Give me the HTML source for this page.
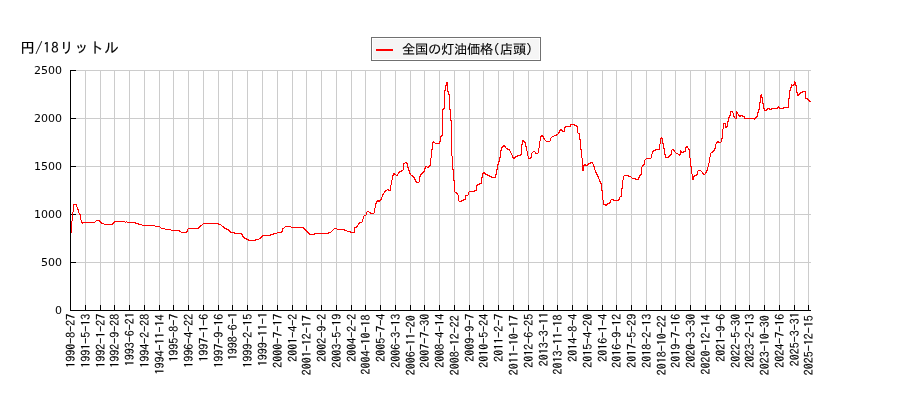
<!DOCTYPE html>
<html lang="ja"><head><meta charset="utf-8"><title>全国の灯油価格(店頭)</title>
<style>
html,body{margin:0;padding:0;background:#fff;}
body{width:900px;height:400px;overflow:hidden;position:relative;}
svg{position:absolute;left:0;top:0;display:block;}
.yl{font-family:"DejaVu Sans","Liberation Sans",sans-serif;font-size:11px;fill:#000;}
.xl{font-family:"IPAGothic","Liberation Mono","Noto Sans CJK JP",monospace;font-size:12px;fill:#000;stroke:#000;stroke-width:0.12px;}
.ti{font-family:"IPAGothic","Liberation Sans","Noto Sans CJK JP",sans-serif;font-size:14.67px;fill:#000;stroke:#000;stroke-width:0.15px;}
.lg{font-family:"IPAGothic","Liberation Sans","Noto Sans CJK JP",sans-serif;font-size:13.33px;fill:#000;stroke:#000;stroke-width:0.12px;}
</style></head><body>
<svg width="900" height="400" viewBox="0 0 900 400">
<rect x="0" y="0" width="900" height="400" fill="#ffffff"/>

<g shape-rendering="crispEdges" stroke="#cccccc" stroke-width="1" fill="none">
<line x1="85.5" y1="70" x2="85.5" y2="310"/>
<line x1="100.5" y1="70" x2="100.5" y2="310"/>
<line x1="114.5" y1="70" x2="114.5" y2="310"/>
<line x1="129.5" y1="70" x2="129.5" y2="310"/>
<line x1="144.5" y1="70" x2="144.5" y2="310"/>
<line x1="159.5" y1="70" x2="159.5" y2="310"/>
<line x1="173.5" y1="70" x2="173.5" y2="310"/>
<line x1="188.5" y1="70" x2="188.5" y2="310"/>
<line x1="203.5" y1="70" x2="203.5" y2="310"/>
<line x1="218.5" y1="70" x2="218.5" y2="310"/>
<line x1="232.5" y1="70" x2="232.5" y2="310"/>
<line x1="247.5" y1="70" x2="247.5" y2="310"/>
<line x1="262.5" y1="70" x2="262.5" y2="310"/>
<line x1="277.5" y1="70" x2="277.5" y2="310"/>
<line x1="292.5" y1="70" x2="292.5" y2="310"/>
<line x1="306.5" y1="70" x2="306.5" y2="310"/>
<line x1="321.5" y1="70" x2="321.5" y2="310"/>
<line x1="336.5" y1="70" x2="336.5" y2="310"/>
<line x1="351.5" y1="70" x2="351.5" y2="310"/>
<line x1="365.5" y1="70" x2="365.5" y2="310"/>
<line x1="380.5" y1="70" x2="380.5" y2="310"/>
<line x1="395.5" y1="70" x2="395.5" y2="310"/>
<line x1="410.5" y1="70" x2="410.5" y2="310"/>
<line x1="424.5" y1="70" x2="424.5" y2="310"/>
<line x1="439.5" y1="70" x2="439.5" y2="310"/>
<line x1="454.5" y1="70" x2="454.5" y2="310"/>
<line x1="469.5" y1="70" x2="469.5" y2="310"/>
<line x1="483.5" y1="70" x2="483.5" y2="310"/>
<line x1="498.5" y1="70" x2="498.5" y2="310"/>
<line x1="513.5" y1="70" x2="513.5" y2="310"/>
<line x1="528.5" y1="70" x2="528.5" y2="310"/>
<line x1="543.5" y1="70" x2="543.5" y2="310"/>
<line x1="557.5" y1="70" x2="557.5" y2="310"/>
<line x1="572.5" y1="70" x2="572.5" y2="310"/>
<line x1="587.5" y1="70" x2="587.5" y2="310"/>
<line x1="602.5" y1="70" x2="602.5" y2="310"/>
<line x1="616.5" y1="70" x2="616.5" y2="310"/>
<line x1="631.5" y1="70" x2="631.5" y2="310"/>
<line x1="646.5" y1="70" x2="646.5" y2="310"/>
<line x1="661.5" y1="70" x2="661.5" y2="310"/>
<line x1="675.5" y1="70" x2="675.5" y2="310"/>
<line x1="690.5" y1="70" x2="690.5" y2="310"/>
<line x1="705.5" y1="70" x2="705.5" y2="310"/>
<line x1="720.5" y1="70" x2="720.5" y2="310"/>
<line x1="735.5" y1="70" x2="735.5" y2="310"/>
<line x1="749.5" y1="70" x2="749.5" y2="310"/>
<line x1="764.5" y1="70" x2="764.5" y2="310"/>
<line x1="779.5" y1="70" x2="779.5" y2="310"/>
<line x1="794.5" y1="70" x2="794.5" y2="310"/>
<line x1="808.5" y1="70" x2="808.5" y2="310"/>
<line x1="70" y1="262.5" x2="811" y2="262.5"/>
<line x1="70" y1="214.5" x2="811" y2="214.5"/>
<line x1="70" y1="166.5" x2="811" y2="166.5"/>
<line x1="70" y1="118.5" x2="811" y2="118.5"/>
<line x1="70" y1="70.5" x2="811" y2="70.5"/>
</g>
<g shape-rendering="crispEdges" stroke="#000000" stroke-width="1" fill="none">
<line x1="70.5" y1="70" x2="70.5" y2="311"/>
<line x1="70" y1="310.5" x2="811" y2="310.5"/>
<line x1="70.5" y1="305" x2="70.5" y2="311"/>
<line x1="85.5" y1="305" x2="85.5" y2="311"/>
<line x1="100.5" y1="305" x2="100.5" y2="311"/>
<line x1="114.5" y1="305" x2="114.5" y2="311"/>
<line x1="129.5" y1="305" x2="129.5" y2="311"/>
<line x1="144.5" y1="305" x2="144.5" y2="311"/>
<line x1="159.5" y1="305" x2="159.5" y2="311"/>
<line x1="173.5" y1="305" x2="173.5" y2="311"/>
<line x1="188.5" y1="305" x2="188.5" y2="311"/>
<line x1="203.5" y1="305" x2="203.5" y2="311"/>
<line x1="218.5" y1="305" x2="218.5" y2="311"/>
<line x1="232.5" y1="305" x2="232.5" y2="311"/>
<line x1="247.5" y1="305" x2="247.5" y2="311"/>
<line x1="262.5" y1="305" x2="262.5" y2="311"/>
<line x1="277.5" y1="305" x2="277.5" y2="311"/>
<line x1="292.5" y1="305" x2="292.5" y2="311"/>
<line x1="306.5" y1="305" x2="306.5" y2="311"/>
<line x1="321.5" y1="305" x2="321.5" y2="311"/>
<line x1="336.5" y1="305" x2="336.5" y2="311"/>
<line x1="351.5" y1="305" x2="351.5" y2="311"/>
<line x1="365.5" y1="305" x2="365.5" y2="311"/>
<line x1="380.5" y1="305" x2="380.5" y2="311"/>
<line x1="395.5" y1="305" x2="395.5" y2="311"/>
<line x1="410.5" y1="305" x2="410.5" y2="311"/>
<line x1="424.5" y1="305" x2="424.5" y2="311"/>
<line x1="439.5" y1="305" x2="439.5" y2="311"/>
<line x1="454.5" y1="305" x2="454.5" y2="311"/>
<line x1="469.5" y1="305" x2="469.5" y2="311"/>
<line x1="483.5" y1="305" x2="483.5" y2="311"/>
<line x1="498.5" y1="305" x2="498.5" y2="311"/>
<line x1="513.5" y1="305" x2="513.5" y2="311"/>
<line x1="528.5" y1="305" x2="528.5" y2="311"/>
<line x1="543.5" y1="305" x2="543.5" y2="311"/>
<line x1="557.5" y1="305" x2="557.5" y2="311"/>
<line x1="572.5" y1="305" x2="572.5" y2="311"/>
<line x1="587.5" y1="305" x2="587.5" y2="311"/>
<line x1="602.5" y1="305" x2="602.5" y2="311"/>
<line x1="616.5" y1="305" x2="616.5" y2="311"/>
<line x1="631.5" y1="305" x2="631.5" y2="311"/>
<line x1="646.5" y1="305" x2="646.5" y2="311"/>
<line x1="661.5" y1="305" x2="661.5" y2="311"/>
<line x1="675.5" y1="305" x2="675.5" y2="311"/>
<line x1="690.5" y1="305" x2="690.5" y2="311"/>
<line x1="705.5" y1="305" x2="705.5" y2="311"/>
<line x1="720.5" y1="305" x2="720.5" y2="311"/>
<line x1="735.5" y1="305" x2="735.5" y2="311"/>
<line x1="749.5" y1="305" x2="749.5" y2="311"/>
<line x1="764.5" y1="305" x2="764.5" y2="311"/>
<line x1="779.5" y1="305" x2="779.5" y2="311"/>
<line x1="794.5" y1="305" x2="794.5" y2="311"/>
<line x1="808.5" y1="305" x2="808.5" y2="311"/>
<line x1="70" y1="310.5" x2="76" y2="310.5"/>
<line x1="70" y1="262.5" x2="76" y2="262.5"/>
<line x1="70" y1="214.5" x2="76" y2="214.5"/>
<line x1="70" y1="166.5" x2="76" y2="166.5"/>
<line x1="70" y1="118.5" x2="76" y2="118.5"/>
<line x1="70" y1="70.5" x2="76" y2="70.5"/>
</g>
<text class="yl" x="62" y="314" text-anchor="end">0</text>
<text class="yl" x="62" y="266" text-anchor="end">500</text>
<text class="yl" x="62" y="218" text-anchor="end">1000</text>
<text class="yl" x="62" y="170" text-anchor="end">1500</text>
<text class="yl" x="62" y="122" text-anchor="end">2000</text>
<text class="yl" x="62" y="74" text-anchor="end">2500</text>
<text class="xl" transform="translate(74.5,313.8) rotate(-90)" text-anchor="end">1990-8-27</text>
<text class="xl" transform="translate(89.5,313.8) rotate(-90)" text-anchor="end">1991-5-13</text>
<text class="xl" transform="translate(104.5,313.8) rotate(-90)" text-anchor="end">1992-1-27</text>
<text class="xl" transform="translate(118.5,313.8) rotate(-90)" text-anchor="end">1992-9-28</text>
<text class="xl" transform="translate(133.5,312.2) rotate(-90)" text-anchor="end">1993-6-21</text>
<text class="xl" transform="translate(148.5,313.8) rotate(-90)" text-anchor="end">1994-2-28</text>
<text class="xl" transform="translate(163.5,314.5) rotate(-90)" text-anchor="end">1994-11-14</text>
<text class="xl" transform="translate(177.5,313.8) rotate(-90)" text-anchor="end">1995-8-7</text>
<text class="xl" transform="translate(192.5,313.8) rotate(-90)" text-anchor="end">1996-4-22</text>
<text class="xl" transform="translate(207.5,313.8) rotate(-90)" text-anchor="end">1997-1-6</text>
<text class="xl" transform="translate(222.5,313.8) rotate(-90)" text-anchor="end">1997-9-16</text>
<text class="xl" transform="translate(236.5,312.2) rotate(-90)" text-anchor="end">1998-6-1</text>
<text class="xl" transform="translate(251.5,313.8) rotate(-90)" text-anchor="end">1999-2-15</text>
<text class="xl" transform="translate(266.5,312.2) rotate(-90)" text-anchor="end">1999-11-1</text>
<text class="xl" transform="translate(281.5,313.8) rotate(-90)" text-anchor="end">2000-7-17</text>
<text class="xl" transform="translate(296.5,313.8) rotate(-90)" text-anchor="end">2001-4-2</text>
<text class="xl" transform="translate(310.5,315.3) rotate(-90)" text-anchor="end">2001-12-17</text>
<text class="xl" transform="translate(325.5,313.8) rotate(-90)" text-anchor="end">2002-9-2</text>
<text class="xl" transform="translate(340.5,313.8) rotate(-90)" text-anchor="end">2003-5-19</text>
<text class="xl" transform="translate(355.5,313.8) rotate(-90)" text-anchor="end">2004-2-2</text>
<text class="xl" transform="translate(369.5,314.5) rotate(-90)" text-anchor="end">2004-10-18</text>
<text class="xl" transform="translate(384.5,313.8) rotate(-90)" text-anchor="end">2005-7-4</text>
<text class="xl" transform="translate(399.5,313.8) rotate(-90)" text-anchor="end">2006-3-13</text>
<text class="xl" transform="translate(414.5,315.3) rotate(-90)" text-anchor="end">2006-11-20</text>
<text class="xl" transform="translate(428.5,313.8) rotate(-90)" text-anchor="end">2007-7-30</text>
<text class="xl" transform="translate(443.5,313.8) rotate(-90)" text-anchor="end">2008-4-14</text>
<text class="xl" transform="translate(458.5,315.3) rotate(-90)" text-anchor="end">2008-12-22</text>
<text class="xl" transform="translate(473.5,313.8) rotate(-90)" text-anchor="end">2009-9-7</text>
<text class="xl" transform="translate(487.5,313.8) rotate(-90)" text-anchor="end">2010-5-24</text>
<text class="xl" transform="translate(502.5,313.8) rotate(-90)" text-anchor="end">2011-2-7</text>
<text class="xl" transform="translate(517.5,315.3) rotate(-90)" text-anchor="end">2011-10-17</text>
<text class="xl" transform="translate(532.5,313.8) rotate(-90)" text-anchor="end">2012-6-25</text>
<text class="xl" transform="translate(547.5,312.2) rotate(-90)" text-anchor="end">2013-3-11</text>
<text class="xl" transform="translate(561.5,314.5) rotate(-90)" text-anchor="end">2013-11-18</text>
<text class="xl" transform="translate(576.5,313.8) rotate(-90)" text-anchor="end">2014-8-4</text>
<text class="xl" transform="translate(591.5,313.8) rotate(-90)" text-anchor="end">2015-4-20</text>
<text class="xl" transform="translate(606.5,313.8) rotate(-90)" text-anchor="end">2016-1-4</text>
<text class="xl" transform="translate(620.5,313.8) rotate(-90)" text-anchor="end">2016-9-12</text>
<text class="xl" transform="translate(635.5,313.8) rotate(-90)" text-anchor="end">2017-5-29</text>
<text class="xl" transform="translate(650.5,313.8) rotate(-90)" text-anchor="end">2018-2-13</text>
<text class="xl" transform="translate(665.5,315.3) rotate(-90)" text-anchor="end">2018-10-22</text>
<text class="xl" transform="translate(679.5,313.8) rotate(-90)" text-anchor="end">2019-7-16</text>
<text class="xl" transform="translate(694.5,313.8) rotate(-90)" text-anchor="end">2020-3-30</text>
<text class="xl" transform="translate(709.5,314.5) rotate(-90)" text-anchor="end">2020-12-14</text>
<text class="xl" transform="translate(724.5,313.8) rotate(-90)" text-anchor="end">2021-9-6</text>
<text class="xl" transform="translate(739.5,313.8) rotate(-90)" text-anchor="end">2022-5-30</text>
<text class="xl" transform="translate(753.5,313.8) rotate(-90)" text-anchor="end">2023-2-13</text>
<text class="xl" transform="translate(768.5,315.3) rotate(-90)" text-anchor="end">2023-10-30</text>
<text class="xl" transform="translate(783.5,313.8) rotate(-90)" text-anchor="end">2024-7-16</text>
<text class="xl" transform="translate(798.5,312.2) rotate(-90)" text-anchor="end">2025-3-31</text>
<text class="xl" transform="translate(812.5,315.3) rotate(-90)" text-anchor="end">2025-12-15</text>
<text class="ti" x="20.2" y="53.2" letter-spacing="0.33">円<tspan letter-spacing="0.67">/18</tspan>リットル</text>
<rect x="371.5" y="37.5" width="169" height="23" fill="#ffffff" stroke="#707070" stroke-width="1" shape-rendering="crispEdges"/>
<rect x="373" y="39" width="166" height="20" fill="#f5f5f5" shape-rendering="crispEdges"/>
<line x1="376" y1="50" x2="393" y2="50" stroke="#ff0000" stroke-width="2" shape-rendering="crispEdges"/>
<text class="lg" x="401.9" y="54" letter-spacing="-0.33">全国の灯油価格<tspan letter-spacing="0.33">(</tspan>店頭<tspan letter-spacing="0.33">)</tspan></text>
<path d="M71 221h1v12h-1zM72 212h1v9h-1zM73 204h1v8h-1zM74 204h1v1h-1zM75 204h1v1h-1zM76 204h1v3h-1zM77 207h1v3h-1zM78 209h1v4h-1zM79 213h1v2h-1zM80 214h1v6h-1zM81 220h1v3h-1zM82 222h1v2h-1zM83 222h1v1h-1zM84 222h1v1h-1zM85 222h1v1h-1zM86 222h1v1h-1zM87 222h1v1h-1zM88 222h1v1h-1zM89 222h1v1h-1zM90 222h1v1h-1zM91 222h1v1h-1zM92 222h1v1h-1zM93 222h1v1h-1zM94 222h1v1h-1zM95 221h1v1h-1zM96 220h1v1h-1zM97 220h1v1h-1zM98 220h1v1h-1zM99 220h1v2h-1zM100 221h1v2h-1zM101 222h1v2h-1zM102 223h1v1h-1zM103 223h1v1h-1zM104 224h1v1h-1zM105 224h1v1h-1zM106 224h1v1h-1zM107 224h1v1h-1zM108 224h1v1h-1zM109 224h1v1h-1zM110 224h1v1h-1zM111 224h1v1h-1zM112 223h1v2h-1zM113 222h1v2h-1zM114 221h1v2h-1zM115 221h1v1h-1zM116 221h1v1h-1zM117 221h1v1h-1zM118 221h1v1h-1zM119 221h1v1h-1zM120 221h1v1h-1zM121 221h1v1h-1zM122 221h1v1h-1zM123 221h1v1h-1zM124 221h1v1h-1zM125 222h1v1h-1zM126 221h1v1h-1zM127 222h1v1h-1zM128 222h1v1h-1zM129 222h1v1h-1zM130 222h1v1h-1zM131 222h1v1h-1zM132 222h1v1h-1zM133 222h1v1h-1zM134 222h1v1h-1zM135 222h1v2h-1zM136 223h1v1h-1zM137 223h1v1h-1zM138 223h1v2h-1zM139 224h1v1h-1zM140 224h1v1h-1zM141 224h1v1h-1zM142 225h1v1h-1zM143 225h1v1h-1zM144 225h1v1h-1zM145 225h1v1h-1zM146 225h1v1h-1zM147 225h1v1h-1zM148 225h1v1h-1zM149 225h1v1h-1zM150 225h1v1h-1zM151 225h1v1h-1zM152 225h1v1h-1zM153 225h1v1h-1zM154 225h1v1h-1zM155 226h1v1h-1zM156 226h1v1h-1zM157 226h1v1h-1zM158 226h1v1h-1zM159 226h1v1h-1zM160 227h1v1h-1zM161 228h1v1h-1zM162 228h1v1h-1zM163 228h1v1h-1zM164 228h1v1h-1zM165 229h1v1h-1zM166 229h1v1h-1zM167 229h1v1h-1zM168 229h1v1h-1zM169 229h1v1h-1zM170 229h1v1h-1zM171 230h1v1h-1zM172 230h1v1h-1zM173 230h1v1h-1zM174 230h1v1h-1zM175 230h1v1h-1zM176 230h1v1h-1zM177 230h1v1h-1zM178 230h1v1h-1zM179 230h1v2h-1zM180 231h1v1h-1zM181 232h1v1h-1zM182 232h1v1h-1zM183 232h1v1h-1zM184 232h1v1h-1zM185 232h1v1h-1zM186 231h1v2h-1zM187 229h1v3h-1zM188 228h1v1h-1zM189 228h1v1h-1zM190 228h1v1h-1zM191 228h1v1h-1zM192 228h1v1h-1zM193 228h1v1h-1zM194 228h1v1h-1zM195 228h1v1h-1zM196 228h1v1h-1zM197 228h1v1h-1zM198 227h1v2h-1zM199 226h1v2h-1zM200 225h1v2h-1zM201 225h1v1h-1zM202 224h1v1h-1zM203 223h1v1h-1zM204 223h1v1h-1zM205 223h1v1h-1zM206 223h1v1h-1zM207 223h1v1h-1zM208 223h1v1h-1zM209 223h1v1h-1zM210 223h1v1h-1zM211 223h1v1h-1zM212 223h1v1h-1zM213 223h1v1h-1zM214 223h1v1h-1zM215 223h1v1h-1zM216 223h1v1h-1zM217 223h1v1h-1zM218 223h1v2h-1zM219 224h1v1h-1zM220 224h1v1h-1zM221 225h1v1h-1zM222 226h1v1h-1zM223 226h1v2h-1zM224 227h1v2h-1zM225 228h1v1h-1zM226 228h1v2h-1zM227 229h1v1h-1zM228 229h1v2h-1zM229 230h1v2h-1zM230 231h1v2h-1zM231 232h1v1h-1zM232 232h1v1h-1zM233 232h1v1h-1zM234 232h1v2h-1zM235 233h1v1h-1zM236 233h1v1h-1zM237 233h1v1h-1zM238 233h1v1h-1zM239 233h1v1h-1zM240 233h1v1h-1zM241 233h1v2h-1zM242 234h1v3h-1zM243 236h1v2h-1zM244 237h1v2h-1zM245 238h1v1h-1zM246 238h1v2h-1zM247 239h1v1h-1zM248 239h1v2h-1zM249 240h1v1h-1zM250 240h1v1h-1zM251 240h1v1h-1zM252 240h1v1h-1zM253 240h1v1h-1zM254 240h1v1h-1zM255 239h1v2h-1zM256 239h1v1h-1zM257 239h1v1h-1zM258 239h1v1h-1zM259 238h1v1h-1zM260 237h1v2h-1zM261 236h1v2h-1zM262 235h1v2h-1zM263 235h1v1h-1zM264 235h1v1h-1zM265 235h1v1h-1zM266 235h1v1h-1zM267 235h1v1h-1zM268 235h1v1h-1zM269 235h1v1h-1zM270 234h1v2h-1zM271 234h1v1h-1zM272 234h1v1h-1zM273 233h1v2h-1zM274 233h1v1h-1zM275 233h1v1h-1zM276 233h1v1h-1zM277 232h1v1h-1zM278 232h1v1h-1zM279 232h1v1h-1zM280 232h1v1h-1zM281 231h1v2h-1zM282 228h1v4h-1zM283 228h1v1h-1zM284 227h1v1h-1zM285 226h1v1h-1zM286 226h1v1h-1zM287 226h1v1h-1zM288 226h1v1h-1zM289 226h1v1h-1zM290 226h1v1h-1zM291 227h1v1h-1zM292 227h1v1h-1zM293 227h1v1h-1zM294 227h1v1h-1zM295 227h1v1h-1zM296 227h1v1h-1zM297 227h1v1h-1zM298 227h1v1h-1zM299 227h1v1h-1zM300 227h1v1h-1zM301 227h1v1h-1zM302 227h1v1h-1zM303 227h1v2h-1zM304 228h1v2h-1zM305 229h1v2h-1zM306 230h1v2h-1zM307 231h1v2h-1zM308 232h1v2h-1zM309 233h1v2h-1zM310 234h1v1h-1zM311 234h1v1h-1zM312 234h1v1h-1zM313 234h1v1h-1zM314 233h1v2h-1zM315 233h1v1h-1zM316 233h1v1h-1zM317 233h1v1h-1zM318 233h1v1h-1zM319 233h1v1h-1zM320 233h1v1h-1zM321 233h1v1h-1zM322 233h1v1h-1zM323 233h1v1h-1zM324 233h1v1h-1zM325 233h1v1h-1zM326 233h1v1h-1zM327 233h1v1h-1zM328 232h1v2h-1zM329 232h1v1h-1zM330 232h1v1h-1zM331 231h1v1h-1zM332 230h1v1h-1zM333 229h1v1h-1zM334 228h1v1h-1zM335 228h1v1h-1zM336 228h1v1h-1zM337 229h1v1h-1zM338 229h1v1h-1zM339 229h1v1h-1zM340 229h1v1h-1zM341 229h1v1h-1zM342 229h1v1h-1zM343 229h1v1h-1zM344 229h1v2h-1zM345 230h1v1h-1zM346 230h1v1h-1zM347 231h1v1h-1zM348 231h1v1h-1zM349 231h1v1h-1zM350 231h1v2h-1zM351 232h1v1h-1zM352 232h1v1h-1zM353 232h1v1h-1zM354 227h1v6h-1zM355 227h1v1h-1zM356 226h1v2h-1zM357 225h1v2h-1zM358 223h1v2h-1zM359 222h1v2h-1zM360 222h1v1h-1zM361 222h1v1h-1zM362 219h1v3h-1zM363 216h1v3h-1zM364 215h1v1h-1zM365 215h1v1h-1zM366 212h1v3h-1zM367 211h1v1h-1zM368 211h1v1h-1zM369 212h1v1h-1zM370 212h1v2h-1zM371 213h1v1h-1zM372 213h1v1h-1zM373 213h1v1h-1zM374 208h1v5h-1zM375 203h1v5h-1zM376 201h1v3h-1zM377 200h1v2h-1zM378 200h1v2h-1zM379 200h1v2h-1zM380 199h1v2h-1zM381 197h1v3h-1zM382 194h1v3h-1zM383 193h1v2h-1zM384 191h1v2h-1zM385 190h1v2h-1zM386 190h1v1h-1zM387 189h1v1h-1zM388 189h1v2h-1zM389 190h1v1h-1zM390 185h1v6h-1zM391 180h1v5h-1zM392 175h1v5h-1zM393 173h1v3h-1zM394 173h1v2h-1zM395 174h1v1h-1zM396 175h1v1h-1zM397 174h1v2h-1zM398 172h1v2h-1zM399 171h1v2h-1zM400 171h1v1h-1zM401 170h1v2h-1zM402 170h1v1h-1zM403 163h1v7h-1zM404 163h1v1h-1zM405 162h1v1h-1zM406 162h1v2h-1zM407 163h1v5h-1zM408 167h1v4h-1zM409 170h1v4h-1zM410 173h1v2h-1zM411 175h1v1h-1zM412 175h1v2h-1zM413 176h1v2h-1zM414 177h1v3h-1zM415 179h1v3h-1zM416 181h1v2h-1zM417 182h1v1h-1zM418 182h1v1h-1zM419 176h1v6h-1zM420 174h1v3h-1zM421 173h1v2h-1zM422 172h1v2h-1zM423 171h1v2h-1zM424 168h1v4h-1zM425 166h1v3h-1zM426 166h1v1h-1zM427 167h1v1h-1zM428 166h1v2h-1zM429 165h1v2h-1zM430 158h1v8h-1zM431 149h1v9h-1zM432 142h1v8h-1zM433 141h1v2h-1zM434 142h1v1h-1zM435 143h1v1h-1zM436 143h1v1h-1zM437 143h1v1h-1zM438 143h1v1h-1zM439 141h1v3h-1zM440 136h1v6h-1zM441 135h1v2h-1zM442 109h1v27h-1zM443 108h1v2h-1zM444 90h1v19h-1zM445 85h1v6h-1zM446 82h1v4h-1zM447 82h1v10h-1zM448 91h1v4h-1zM449 94h1v16h-1zM450 109h1v12h-1zM451 120h1v36h-1zM452 156h1v14h-1zM453 169h1v12h-1zM454 180h1v12h-1zM455 192h1v1h-1zM456 192h1v2h-1zM457 193h1v2h-1zM458 195h1v6h-1zM459 201h1v1h-1zM460 201h1v1h-1zM461 200h1v2h-1zM462 200h1v1h-1zM463 199h1v2h-1zM464 199h1v1h-1zM465 195h1v5h-1zM466 195h1v1h-1zM467 195h1v1h-1zM468 192h1v3h-1zM469 191h1v1h-1zM470 191h1v1h-1zM471 191h1v1h-1zM472 191h1v1h-1zM473 191h1v1h-1zM474 190h1v2h-1zM475 190h1v1h-1zM476 185h1v6h-1zM477 184h1v2h-1zM478 184h1v1h-1zM479 183h1v2h-1zM480 183h1v1h-1zM481 177h1v7h-1zM482 173h1v5h-1zM483 172h1v2h-1zM484 172h1v2h-1zM485 173h1v2h-1zM486 174h1v1h-1zM487 174h1v2h-1zM488 175h1v1h-1zM489 175h1v2h-1zM490 176h1v1h-1zM491 176h1v2h-1zM492 177h1v1h-1zM493 177h1v1h-1zM494 177h1v1h-1zM495 174h1v4h-1zM496 169h1v6h-1zM497 164h1v6h-1zM498 161h1v4h-1zM499 157h1v5h-1zM500 150h1v8h-1zM501 147h1v4h-1zM502 146h1v2h-1zM503 145h1v2h-1zM504 145h1v2h-1zM505 146h1v2h-1zM506 148h1v1h-1zM507 148h1v2h-1zM508 149h1v1h-1zM509 149h1v2h-1zM510 151h1v2h-1zM511 153h1v2h-1zM512 155h1v3h-1zM513 157h1v2h-1zM514 157h1v2h-1zM515 156h1v2h-1zM516 156h1v1h-1zM517 155h1v2h-1zM518 155h1v1h-1zM519 155h1v1h-1zM520 154h1v2h-1zM521 144h1v11h-1zM522 140h1v5h-1zM523 140h1v2h-1zM524 141h1v2h-1zM525 142h1v5h-1zM526 146h1v5h-1zM527 151h1v5h-1zM528 156h1v3h-1zM529 158h1v1h-1zM530 157h1v2h-1zM531 153h1v5h-1zM532 152h1v1h-1zM533 151h1v1h-1zM534 151h1v1h-1zM535 152h1v2h-1zM536 153h1v1h-1zM537 153h1v1h-1zM538 148h1v5h-1zM539 141h1v7h-1zM540 136h1v5h-1zM541 135h1v2h-1zM542 135h1v2h-1zM543 136h1v3h-1zM544 138h1v2h-1zM545 140h1v1h-1zM546 141h1v1h-1zM547 141h1v1h-1zM548 141h1v1h-1zM549 141h1v1h-1zM550 138h1v3h-1zM551 137h1v1h-1zM552 136h1v1h-1zM553 136h1v1h-1zM554 135h1v1h-1zM555 135h1v1h-1zM556 134h1v2h-1zM557 134h1v1h-1zM558 132h1v2h-1zM559 130h1v3h-1zM560 129h1v2h-1zM561 129h1v2h-1zM562 130h1v2h-1zM563 131h1v1h-1zM564 127h1v5h-1zM565 126h1v2h-1zM566 126h1v1h-1zM567 126h1v1h-1zM568 126h1v1h-1zM569 126h1v1h-1zM570 124h1v3h-1zM571 124h1v1h-1zM572 124h1v1h-1zM573 124h1v1h-1zM574 124h1v2h-1zM575 125h1v1h-1zM576 125h1v2h-1zM577 126h1v7h-1zM578 133h1v1h-1zM579 133h1v7h-1zM580 139h1v11h-1zM581 149h1v9h-1zM582 158h1v13h-1zM583 165h1v6h-1zM584 164h1v2h-1zM585 164h1v2h-1zM586 165h1v1h-1zM587 164h1v2h-1zM588 163h1v2h-1zM589 163h1v1h-1zM590 162h1v2h-1zM591 162h1v1h-1zM592 162h1v2h-1zM593 164h1v3h-1zM594 166h1v4h-1zM595 170h1v3h-1zM596 172h1v3h-1zM597 174h1v3h-1zM598 176h1v3h-1zM599 179h1v3h-1zM600 181h1v3h-1zM601 183h1v8h-1zM602 190h1v10h-1zM603 200h1v5h-1zM604 204h1v1h-1zM605 204h1v2h-1zM606 204h1v2h-1zM607 203h1v2h-1zM608 203h1v1h-1zM609 202h1v2h-1zM610 200h1v3h-1zM611 199h1v1h-1zM612 199h1v1h-1zM613 199h1v2h-1zM614 200h1v1h-1zM615 200h1v1h-1zM616 200h1v1h-1zM617 200h1v1h-1zM618 199h1v2h-1zM619 197h1v3h-1zM620 196h1v1h-1zM621 188h1v9h-1zM622 180h1v9h-1zM623 176h1v4h-1zM624 175h1v1h-1zM625 175h1v1h-1zM626 175h1v1h-1zM627 175h1v1h-1zM628 175h1v2h-1zM629 176h1v1h-1zM630 176h1v1h-1zM631 177h1v1h-1zM632 178h1v1h-1zM633 178h1v1h-1zM634 178h1v1h-1zM635 178h1v2h-1zM636 179h1v1h-1zM637 179h1v1h-1zM638 177h1v3h-1zM639 175h1v3h-1zM640 174h1v2h-1zM641 167h1v8h-1zM642 165h1v2h-1zM643 164h1v2h-1zM644 160h1v5h-1zM645 159h1v1h-1zM646 158h1v1h-1zM647 158h1v1h-1zM648 158h1v1h-1zM649 158h1v1h-1zM650 158h1v1h-1zM651 154h1v4h-1zM652 151h1v3h-1zM653 150h1v2h-1zM654 150h1v1h-1zM655 149h1v2h-1zM656 149h1v1h-1zM657 149h1v1h-1zM658 149h1v1h-1zM659 144h1v6h-1zM660 138h1v6h-1zM661 137h1v2h-1zM662 138h1v6h-1zM663 143h1v6h-1zM664 148h1v7h-1zM665 154h1v4h-1zM666 157h1v1h-1zM667 157h1v1h-1zM668 156h1v2h-1zM669 155h1v2h-1zM670 154h1v2h-1zM671 150h1v5h-1zM672 149h1v1h-1zM673 149h1v2h-1zM674 150h1v2h-1zM675 152h1v1h-1zM676 153h1v1h-1zM677 153h1v1h-1zM678 154h1v1h-1zM679 154h1v2h-1zM680 150h1v5h-1zM681 151h1v2h-1zM682 152h1v1h-1zM683 151h1v2h-1zM684 151h1v1h-1zM685 147h1v5h-1zM686 146h1v2h-1zM687 146h1v2h-1zM688 148h1v2h-1zM689 149h1v9h-1zM690 158h1v9h-1zM691 166h1v8h-1zM692 174h1v6h-1zM693 176h1v4h-1zM694 175h1v2h-1zM695 175h1v1h-1zM696 174h1v2h-1zM697 171h1v4h-1zM698 170h1v1h-1zM699 170h1v1h-1zM700 170h1v1h-1zM701 171h1v1h-1zM702 172h1v2h-1zM703 173h1v2h-1zM704 174h1v1h-1zM705 172h1v2h-1zM706 170h1v3h-1zM707 167h1v4h-1zM708 163h1v4h-1zM709 157h1v6h-1zM710 153h1v4h-1zM711 152h1v1h-1zM712 151h1v2h-1zM713 150h1v2h-1zM714 148h1v3h-1zM715 144h1v5h-1zM716 142h1v2h-1zM717 141h1v2h-1zM718 141h1v2h-1zM719 142h1v1h-1zM720 142h1v1h-1zM721 138h1v4h-1zM722 129h1v10h-1zM723 123h1v6h-1zM724 123h1v1h-1zM725 123h1v5h-1zM726 126h1v2h-1zM727 121h1v6h-1zM728 117h1v5h-1zM729 115h1v3h-1zM730 111h1v5h-1zM731 111h1v1h-1zM732 111h1v2h-1zM733 113h1v4h-1zM734 116h1v2h-1zM735 118h1v1h-1zM736 111h1v8h-1zM737 112h1v2h-1zM738 114h1v2h-1zM739 115h1v2h-1zM740 115h1v2h-1zM741 115h1v1h-1zM742 115h1v2h-1zM743 116h1v1h-1zM744 116h1v3h-1zM745 118h1v1h-1zM746 118h1v1h-1zM747 118h1v1h-1zM748 118h1v1h-1zM749 118h1v1h-1zM750 118h1v1h-1zM751 118h1v1h-1zM752 118h1v1h-1zM753 118h1v1h-1zM754 118h1v2h-1zM755 117h1v2h-1zM756 116h1v2h-1zM757 112h1v5h-1zM758 109h1v4h-1zM759 102h1v8h-1zM760 95h1v8h-1zM761 94h1v4h-1zM762 97h1v7h-1zM763 103h1v6h-1zM764 108h1v3h-1zM765 110h1v1h-1zM766 109h1v2h-1zM767 108h1v2h-1zM768 108h1v1h-1zM769 108h1v2h-1zM770 109h1v1h-1zM771 108h1v2h-1zM772 108h1v1h-1zM773 108h1v1h-1zM774 108h1v1h-1zM775 108h1v1h-1zM776 108h1v1h-1zM777 107h1v2h-1zM778 106h1v2h-1zM779 107h1v2h-1zM780 108h1v1h-1zM781 108h1v1h-1zM782 108h1v1h-1zM783 107h1v2h-1zM784 107h1v1h-1zM785 107h1v1h-1zM786 107h1v1h-1zM787 107h1v1h-1zM788 98h1v10h-1zM789 90h1v9h-1zM790 87h1v4h-1zM791 84h1v4h-1zM792 85h1v1h-1zM793 84h1v2h-1zM794 81h1v4h-1zM795 82h1v4h-1zM796 85h1v8h-1zM797 92h1v4h-1zM798 94h1v2h-1zM799 93h1v2h-1zM800 92h1v2h-1zM801 92h1v1h-1zM802 91h1v2h-1zM803 91h1v1h-1zM804 91h1v1h-1zM805 91h1v8h-1zM806 98h1v1h-1zM807 98h1v2h-1zM808 99h1v2h-1zM809 100h1v2h-1zM810 101h1v1h-1z" fill="#ff0000" stroke="none" shape-rendering="crispEdges"/>
</svg></body></html>
